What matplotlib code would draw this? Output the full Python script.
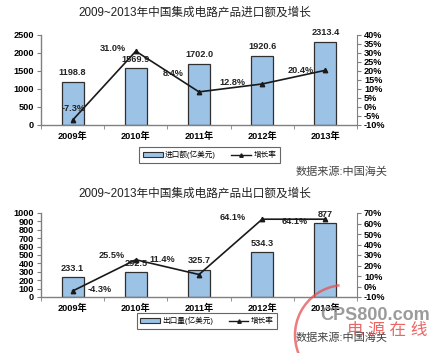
import matplotlib
matplotlib.use('Agg')
import matplotlib.pyplot as plt
import numpy as np
from matplotlib.patches import Patch, Arc
from matplotlib.lines import Line2D
from matplotlib.ticker import FuncFormatter, MultipleLocator

plt.rcParams['font.family'] = ['Liberation Sans', 'Noto Sans CJK SC', 'DejaVu Sans']

# Data
years = ['2009年', '2010年', '2011年', '2012年', '2013年']
import_value = [1198.8, 1569.9, 1702.0, 1920.6, 2313.4]
import_growth = [-7.3, 31.0, 8.4, 12.8, 20.4]
export_value = [233.1, 292.5, 325.7, 534.3, 877]
export_growth = [-4.3, 25.5, 11.4, 64.1, 64.1]

# label offsets (pixels) for growth labels
import_offsets = [(1, 12), (-23, 3), (-26, 18), (-30, 1), (-25, 0)]
export_offsets = [(27, 2), (-24, 4), (-37, 15), (-30, 2), (-31, -2)]

W, H = 439, 353
fig = plt.figure(figsize=(W / 100, H / 100), dpi=100)

bar_color = '#9cc3e5'
spine_color = '#808080'
tick_fs = 6.6


def fmt_value(v):
    # floats keep one decimal (1702.0), ints print as is (877)
    return f'{v:.1f}' if isinstance(v, float) else str(v)


def make_panel(rect, values, growth, offsets, ymax, ystep, pmin, pmax, pstep,
               title, title_y, bar_label, legend_pos, src_y):
    ax = fig.add_axes(rect)
    x = np.arange(len(years))
    ax.bar(x, values, width=0.35, color=bar_color, edgecolor='#303030',
           linewidth=0.9, zorder=2)
    for xi, v in zip(x, values):
        ax.annotate(fmt_value(v), (xi, v), xytext=(0, 9),
                    textcoords='offset pixels', ha='center', va='center',
                    fontsize=tick_fs, fontweight='bold', color='#222222',
                    zorder=5)
    ax.set_xlim(-0.5, len(years) - 0.5)
    ax.set_ylim(0, ymax)
    ax.yaxis.set_major_locator(MultipleLocator(ystep))
    ax.set_xticks(x)
    ax.set_xticklabels(years, fontsize=tick_fs, fontweight='bold')
    ax.set_xticks(np.arange(-0.5, len(years)), minor=True)
    ax.tick_params(axis='x', which='major', length=0, pad=5)
    ax.tick_params(axis='x', which='minor', length=3, color=spine_color)
    ax.tick_params(axis='y', length=3, color=spine_color, labelsize=tick_fs, pad=2)
    for lab in ax.get_yticklabels():
        lab.set_fontweight('bold')
    for s in ['top', 'right']:
        ax.spines[s].set_visible(False)
    for s in ['left', 'bottom']:
        ax.spines[s].set_color(spine_color)
        ax.spines[s].set_linewidth(1.0)

    ax2 = ax.twinx()
    ax2.plot(x, growth, color='#1a1a1a', linewidth=1.2, marker='^',
             markersize=3.2, zorder=4)
    for xi, g, (dx, dy) in zip(x, growth, offsets):
        ax2.annotate(f'{g:.1f}%', (xi, g), xytext=(dx, dy),
                     textcoords='offset pixels', ha='center', va='center',
                     fontsize=tick_fs, fontweight='bold', color='#222222')
    ax2.set_ylim(pmin, pmax)
    ax2.yaxis.set_major_locator(MultipleLocator(pstep))
    ax2.yaxis.set_major_formatter(FuncFormatter(lambda v, p: f'{v:.0f}%'))
    ax2.tick_params(axis='y', length=3, color=spine_color, labelsize=tick_fs, pad=2)
    for lab in ax2.get_yticklabels():
        lab.set_fontweight('bold')
    for s in ['top', 'left', 'bottom']:
        ax2.spines[s].set_visible(False)
    ax2.spines['right'].set_color(spine_color)

    fig.text(195 / W, 1 - title_y / H, title, ha='center', va='center',
             fontsize=8.4, color='#222222')

    handles = [Patch(facecolor=bar_color, edgecolor='#303030', linewidth=0.8),
               Line2D([0], [0], color='#1a1a1a', linewidth=1.0, marker='^',
                      markersize=2.5)]
    leg = fig.legend(handles, [bar_label, '增长率'], loc='center',
                     bbox_to_anchor=legend_pos, ncol=2, fontsize=5.5,
                     frameon=True, fancybox=False, edgecolor='#404040',
                     handlelength=2.6, handleheight=0.5, columnspacing=2.0,
                     borderpad=0.5, handletextpad=0.3)
    leg.get_frame().set_linewidth(0.8)

    fig.text(342 / W, 1 - src_y / H, '数据来源:中国海关', ha='center',
             va='center', fontsize=8, color='#444444')
    return ax


make_panel([41 / W, 1 - 125 / H, 316 / W, 90 / H], import_value, import_growth,
           import_offsets, 2500, 500, -10, 40, 5,
           '2009~2013年中国集成电路产品进口额及增长', 13, '进口额(亿美元)',
           (209.5 / W, 1 - 155 / H), 172)

make_panel([41 / W, 1 - 297 / H, 316 / W, 84 / H], export_value, export_growth,
           export_offsets, 1000, 100, -10, 70, 10,
           '2009~2013年中国集成电路产品出口额及增长', 194, '出口量(亿美元)',
           (207 / W, 1 - 321 / H), 338)

# watermark
fig.patches.append(Arc((345 / W, 1 - 335 / H), 100 / W, 100 / H, theta1=95,
                       theta2=215, color='#e85050', linewidth=1.8, alpha=0.75,
                       transform=fig.transFigure))
fig.text(375 / W, 1 - 316 / H, 'CPS800.com', ha='center', va='center',
         fontsize=13, fontweight='bold', color='#8a8a8a', alpha=0.85)
fig.text(387 / W, 1 - 330 / H, '电 源 在 线', ha='center', va='center',
         fontsize=12, style='italic', color='#e84a4a', alpha=0.85)

fig.savefig('out.png', dpi=100, facecolor='white')
